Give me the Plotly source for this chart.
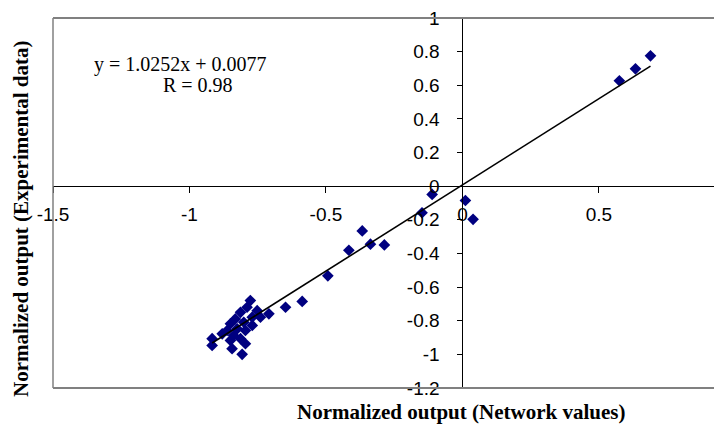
import plotly.graph_objects as go

# Data points (network value, experimental value)
net_values = [
    0.575, 0.634, 0.689,
    0.011, 0.039, -0.111, -0.148,
    -0.367, -0.416, -0.337, -0.286, -0.493,
    -0.587, -0.648, -0.709,
    -0.777, -0.789, -0.813, -0.752, -0.740, -0.770, -0.832, -0.801, -0.850,
    -0.770, -0.825, -0.862, -0.795, -0.880, -0.838, -0.917, -0.917, -0.850,
    -0.813, -0.795, -0.844, -0.807,
]
exp_values = [
    0.627, 0.698, 0.775,
    -0.085, -0.197, -0.049, -0.158,
    -0.266, -0.381, -0.345, -0.349, -0.533,
    -0.685, -0.720, -0.759,
    -0.680, -0.720, -0.750, -0.740, -0.779, -0.779, -0.789, -0.809, -0.818,
    -0.828, -0.848, -0.858, -0.858, -0.878, -0.888, -0.907, -0.947, -0.917,
    -0.907, -0.937, -0.966, -1.000,
]

slope = 1.0252
intercept = 0.0077

x_tickvals = [-1.5, -1.0, -0.5, 0.0, 0.5]
x_ticktext = ["-1.5", "-1", "-0.5", "0", "0.5"]
y_tickvals = [1.0, 0.8, 0.6, 0.4, 0.2, 0.0, -0.2, -0.4, -0.6, -0.8, -1.0, -1.2]
y_ticktext = ["1", "0.8", "0.6", "0.4", "0.2", "0", "-0.2", "-0.4", "-0.6", "-0.8", "-1", "-1.2"]

x_range = [-1.5, 0.951]
y_range = [-1.2, 1.0]

fig = go.Figure()

fig.add_trace(go.Scatter(
    x=net_values, y=exp_values, mode="markers",
    marker=dict(symbol="diamond", size=9, color="#000080", line=dict(width=0)),
    showlegend=False,
))

x0, x1 = min(net_values), max(net_values)
fig.add_trace(go.Scatter(
    x=[x0, x1], y=[slope * x0 + intercept, slope * x1 + intercept],
    mode="lines", line=dict(color="black", width=1.6), showlegend=False,
))

xpos = (0 - y_range[0]) / (y_range[1] - y_range[0])
ypos = (0 - x_range[0]) / (x_range[1] - x_range[0])

tickfont = dict(family="Liberation Sans, Arial, sans-serif", size=19, color="black")
serif = "Liberation Serif, Times New Roman, serif"

fig.update_layout(
    width=714, height=426,
    margin=dict(l=45, r=0, t=8, b=46),
    paper_bgcolor="white", plot_bgcolor="white",
    xaxis=dict(
        range=x_range, anchor="free", position=xpos, side="bottom",
        showgrid=False, zeroline=False, showline=True, linecolor="black", linewidth=1,
        ticks="outside", ticklen=6, tickcolor="black", tickwidth=1,
        tickvals=x_tickvals, ticktext=x_ticktext, tickfont=tickfont,
        ticklabelstandoff=5, ticklabeloverflow="allow",
    ),
    yaxis=dict(
        range=y_range, anchor="free", position=ypos, side="left",
        showgrid=False, zeroline=False, showline=True, linecolor="black", linewidth=1,
        ticks="outside", ticklen=5, tickcolor="black", tickwidth=1,
        tickvals=y_tickvals, ticktext=y_ticktext, tickfont=tickfont,
        ticklabelstandoff=14, ticklabeloverflow="allow",
    ),
    shapes=[
        dict(type="line", xref="paper", yref="paper", x0=0, x1=1, y0=1, y1=1,
             line=dict(color="#808080", width=2)),
        dict(type="line", xref="paper", yref="paper", x0=0, x1=1, y0=0, y1=0,
             line=dict(color="#808080", width=2)),
        dict(type="line", xref="paper", yref="paper", x0=0, x1=0, y0=0, y1=1,
             line=dict(color="#808080", width=1.5)),
    ],
    annotations=[
        dict(text="y = 1.0252x + 0.0077", xref="paper", yref="paper",
             x=(180 - 53) / 669, y=(388 - 63) / 372, xanchor="center", yanchor="middle",
             showarrow=False, font=dict(family=serif, size=20, color="black")),
        dict(text="R = 0.98", xref="paper", yref="paper",
             x=(198 - 53) / 669, y=(388 - 83) / 372, xanchor="center", yanchor="middle",
             showarrow=False, font=dict(family=serif, size=20, color="black")),
        dict(text="<b>Normalized output (Network values)</b>", xref="paper", yref="paper",
             x=(461 - 53) / 669, y=(388 - 412) / 372, xanchor="center", yanchor="middle",
             showarrow=False, font=dict(family=serif, size=21, color="black")),
        dict(text="<b>Normalized output (Experimental data)</b>", xref="paper", yref="paper",
             x=(21 - 53) / 669, y=(388 - 218) / 372, xanchor="center", yanchor="middle",
             textangle=-90,
             showarrow=False, font=dict(family=serif, size=21, color="black")),
    ],
)

fig.write_html("out.html")
